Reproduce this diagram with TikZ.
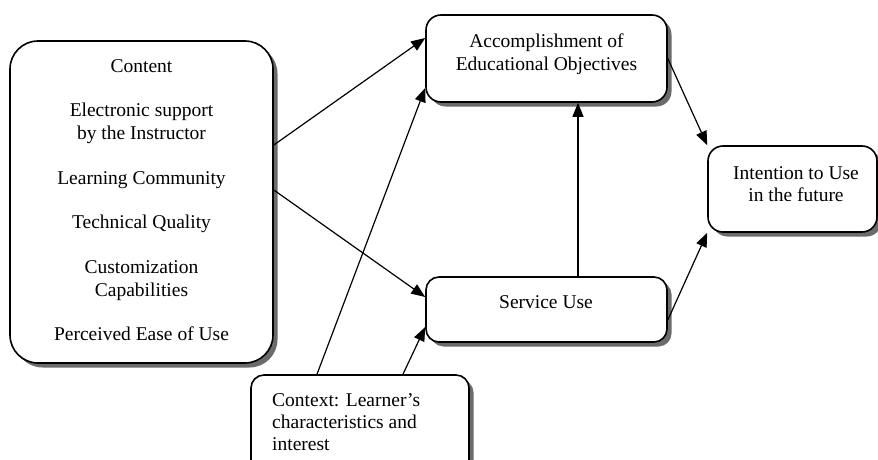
\documentclass[tikz,border=0pt]{standalone}
\usepackage{fontspec}
\setmainfont{Liberation Serif}
\usetikzlibrary{arrows.meta,calc,shadows}
\begin{document}
\begin{tikzpicture}[x=1pt,y=-1pt,
  box/.style={draw=black, line width=1.6pt, fill=white, rounded corners=#1, inner sep=0pt,
    drop shadow={shadow xshift=4.5pt, shadow yshift=-4.5pt, fill=black!58, opacity=1}},
  lbl/.style={inner sep=0pt, font=\fontsize{19.5}{22.4}\selectfont},
  conn/.style={line width=1.2pt, -{Triangle[length=14pt,width=11pt]}}
]
\useasboundingbox (0,0) rectangle (878,460);
\clip (0,0) rectangle (878,460);

% boxes
\node[box=28pt, minimum width=263pt, minimum height=322pt] (content) at (141.5,202) {};
\node[box=15pt, minimum width=241pt, minimum height=87pt] (acc) at (546.5,58.5) {};
\node[box=13pt, minimum width=241pt, minimum height=65pt] (serv) at (546.5,309.5) {};
\node[box=15pt, minimum width=169pt, minimum height=86pt] (int) at (792.5,189) {};
\node[box=13pt, minimum width=218pt, minimum height=110pt] (ctx) at (360,430) {};

% texts
\node[lbl, align=center, anchor=north] (contenttxt) at (141.5,59)
  {Content\\ \\Electronic support\\by the Instructor\\ \\Learning Community\\ \\Technical Quality\\ \\Customization\\Capabilities\\ \\Perceived Ease of Use};
\node[lbl, align=center, anchor=north] (acctxt) at (546.5,34) {Accomplishment of\\Educational Objectives};
\node[lbl, align=center, anchor=north] (servtxt) at (546,295) {Service Use};
\node[lbl, align=center, anchor=north] (inttxt) at (796,166) {Intention to Use\\in the future};
\node[lbl, align=left, anchor=north west] (ctxtxt) at (272,393) {Context: Learner’s\\characteristics and\\interest};

% connectors
\draw[conn] ($(content.east)+(0,-57)$) -- ($(acc.west)+(0,-20.5)$);
\draw[conn] ($(content.east)+(0,-12)$) -- ($(serv.west)+(0,-12.5)$);
\draw[conn] ($(ctx.north)+(-43,0)$) -- ($(acc.west)+(0,29.5)$);
\draw[conn] ($(ctx.north)+(43,0)$) -- ($(serv.west)+(0,17.5)$);
\draw[conn] ($(serv.north)+(31.5,0)$) -- ($(acc.south)+(31.5,0)$);
\draw[conn] (acc.east) -- (int.north west);
\draw[conn] ($(serv.east)+(0,10.5)$) -- (int.south west);
\end{tikzpicture}
\end{document}
